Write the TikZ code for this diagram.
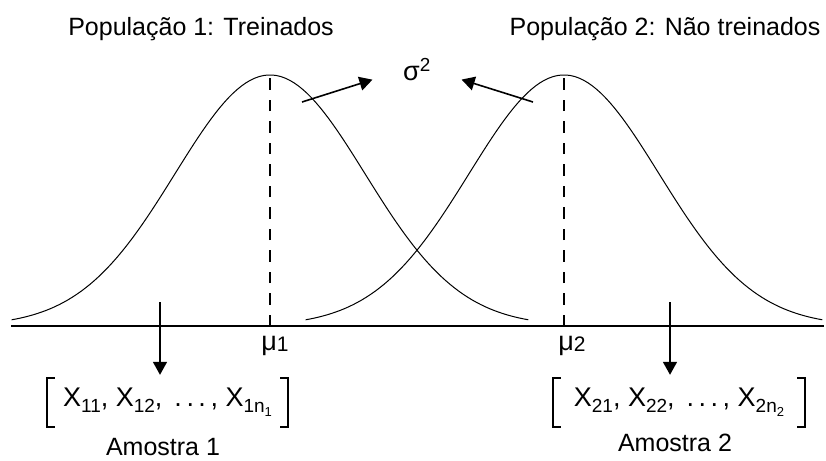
\documentclass[tikz,border=0pt]{standalone}
\usepackage{fontspec}
\setmainfont{Liberation Sans}
\usepackage{tikz}
\usetikzlibrary{arrows.meta,positioning,calc}
\newcommand{\sbx}[1]{\raisebox{-6pt}{\fontsize{19}{19}\selectfont #1}}
\newcommand{\sbxx}[1]{\raisebox{-4pt}{\fontsize{13}{13}\selectfont #1}}

\begin{document}
\begin{tikzpicture}[
  x=1pt, y=-1pt,
  curve/.style={line width=1pt},
  axis/.style={line width=1.8pt},
  arr/.style={-{Triangle[length=13pt,width=14pt]}, line width=1.6pt},
  meanline/.style={line width=1.4pt, dash pattern=on 11.5pt off 10pt},
  bracket/.style={line width=1.6pt},
  lab/.style={font=\fontsize{25}{30}\selectfont, anchor=base, inner sep=0pt},
  meanlab/.style={font=\fontsize{27}{30}\selectfont, anchor=base, inner sep=0pt},
  sample/.style={font=\fontsize{27}{32}\selectfont, minimum height=49pt, inner sep=0pt},
]
\useasboundingbox (0,0) rectangle (826,460);

\node[lab] (title1) at (201,36) {População 1: Treinados};
\node[lab] (title2) at (665,36) {População 2: Não treinados};

\coordinate (axl) at (11,326);
\coordinate (axr) at (824,326);
\draw[axis] (axl) -- (axr);

\draw[curve] plot[domain=-2.72:2.72, samples=120] ({270+95*\x}, {326-251*exp(-0.5*\x*\x)});
\draw[curve] plot[domain=-2.72:2.72, samples=120] ({564+95*\x}, {326-251*exp(-0.5*\x*\x)});

\coordinate (peak1) at (270,75);
\coordinate (foot1) at (270,326);
\coordinate (peak2) at (564,75);
\coordinate (foot2) at (564,326);
\draw[meanline] (foot1) -- (peak1);
\draw[meanline] (foot2) -- (peak2);

\node[meanlab] (mu1) at (275,350) {μ\raisebox{-1pt}{\fontsize{21}{21}\selectfont 1}};
\node[meanlab] (mu2) at (572,350) {μ\raisebox{-1pt}{\fontsize{21}{21}\selectfont 2}};

\node[lab, anchor=center, font=\fontsize{27}{30}\selectfont] (sigma) at (417,70) {σ\textsuperscript{2}};
\coordinate (from1) at (302,102);
\coordinate (from2) at (533,102);
\draw[arr, shorten >=32pt] (from1) -- (sigma.west);
\draw[arr, shorten >=32pt] (from2) -- (sigma.east);

\node[sample, minimum width=241pt] (s1) at (167.5,402.5)
  {X\sbx{11}, X\sbx{12}, \,.\,.\,.\,, X\sbx{1n\sbxx{1}}};
\node[sample, minimum width=252pt] (s2) at (679,402.5)
  {X\sbx{21}, X\sbx{22}, \,.\,.\,.\,, X\sbx{2n\sbxx{2}}};
\draw[bracket] ([xshift=8pt]s1.north west) -| (s1.south west) -- ++(8,0);
\draw[bracket] ([xshift=-8pt]s1.north east) -| (s1.south east) -- ++(-8,0);
\draw[bracket] ([xshift=8pt]s2.north west) -| (s2.south west) -- ++(8,0);
\draw[bracket] ([xshift=-8pt]s2.north east) -| (s2.south east) -- ++(-8,0);

\coordinate (pick1) at (160,302);
\coordinate (pick2) at (670,302);
\draw[arr, shorten >=3pt] (pick1) -- (pick1 |- s1.north);
\draw[arr, shorten >=3pt] (pick2) -- (pick2 |- s2.north);

\node[lab] (am1) at (163,455) {Amostra 1};
\node[lab] (am2) at (675,451) {Amostra 2};
\end{tikzpicture}
\end{document}
